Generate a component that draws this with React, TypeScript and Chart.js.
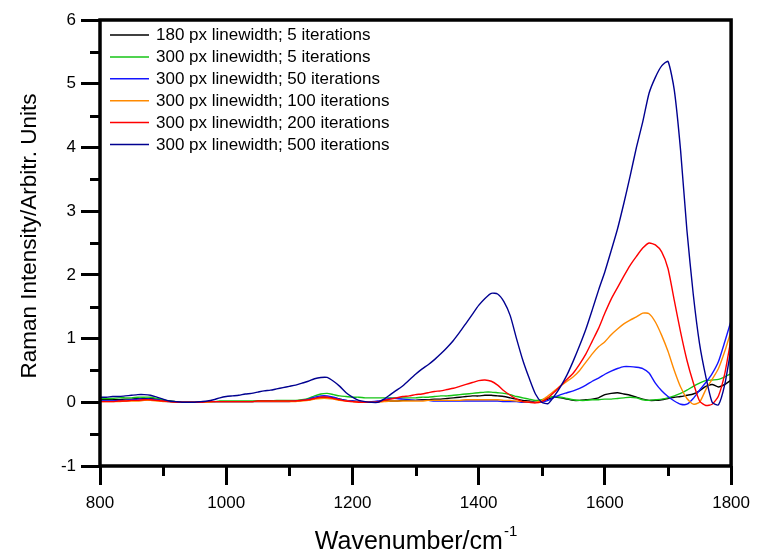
import React, { useEffect, useRef } from "react";
import { Chart, registerables } from "chart.js";

Chart.register(...registerables);

const WAVENUMBERS = [
  800, 810, 820, 830, 840, 850, 860, 870, 880, 890,
  900, 910, 920, 930, 940, 950, 960, 970, 980, 990,
  1000, 1010, 1020, 1030, 1040, 1050, 1060, 1070, 1080, 1090,
  1100, 1110, 1120, 1130, 1140, 1150, 1160, 1170, 1180, 1190,
  1200, 1210, 1220, 1230, 1240, 1250, 1260, 1270, 1280, 1290,
  1300, 1310, 1320, 1330, 1340, 1350, 1360, 1370, 1380, 1390,
  1400, 1410, 1420, 1430, 1440, 1450, 1460, 1470, 1480, 1490,
  1500, 1510, 1520, 1530, 1540, 1550, 1560, 1570, 1580, 1590,
  1600, 1610, 1620, 1630, 1640, 1650, 1660, 1670, 1680, 1690,
  1700, 1710, 1720, 1730, 1740, 1750, 1760, 1770, 1780, 1790,
  1800,
];

const LW180_IT5 = [
  0.04, 0.04, 0.04, 0.04, 0.05, 0.05, 0.06, 0.06, 0.06, 0.05,
  0.03, 0.02, 0.01, 0.0, 0.0, 0.0, 0.0, 0.01, 0.01, 0.01,
  0.01, 0.01, 0.01, 0.01, 0.01, 0.02, 0.02, 0.02, 0.02, 0.02,
  0.02, 0.02, 0.03, 0.04, 0.06, 0.08, 0.08, 0.07, 0.05, 0.03,
  0.02, 0.01, 0.01, 0.01, 0.01, 0.02, 0.02, 0.02, 0.03, 0.03,
  0.03, 0.04, 0.04, 0.05, 0.05, 0.06, 0.07, 0.08, 0.09, 0.1,
  0.1, 0.11, 0.11, 0.1, 0.09, 0.07, 0.05, 0.03, 0.02, 0.0,
  0.02, 0.05, 0.08, 0.07, 0.05, 0.03, 0.03, 0.04, 0.05, 0.07,
  0.12, 0.14, 0.15, 0.13, 0.11, 0.08, 0.05, 0.03, 0.03, 0.04,
  0.06, 0.08, 0.09, 0.11, 0.13, 0.18, 0.25, 0.28, 0.24, 0.28,
  0.35,
];

const LW300_IT5 = [
  0.06, 0.06, 0.06, 0.07, 0.07, 0.07, 0.08, 0.08, 0.08, 0.06,
  0.04, 0.02, 0.01, 0.0, 0.0, 0.0, 0.01, 0.01, 0.01, 0.02,
  0.02, 0.02, 0.02, 0.02, 0.02, 0.02, 0.02, 0.02, 0.03, 0.03,
  0.03, 0.03, 0.04, 0.06, 0.1, 0.13, 0.14, 0.12, 0.1, 0.09,
  0.08, 0.08, 0.07, 0.07, 0.07, 0.07, 0.07, 0.07, 0.07, 0.07,
  0.07, 0.08, 0.08, 0.09, 0.1, 0.1, 0.11, 0.12, 0.13, 0.14,
  0.15, 0.16, 0.16, 0.15, 0.14, 0.12, 0.09, 0.07, 0.05, 0.03,
  0.04, 0.07, 0.09, 0.08, 0.06, 0.04, 0.03, 0.03, 0.04, 0.04,
  0.05, 0.05, 0.06, 0.07, 0.08, 0.07, 0.04, 0.03, 0.04, 0.05,
  0.07, 0.1, 0.14, 0.19, 0.25, 0.3, 0.34, 0.35, 0.36, 0.4,
  0.45,
];

const LW300_IT50 = [
  0.02, 0.02, 0.02, 0.03, 0.03, 0.04, 0.05, 0.05, 0.05, 0.04,
  0.02, 0.01, 0.0, 0.0, 0.0, 0.0, 0.0, 0.01, 0.01, 0.01,
  0.01, 0.01, 0.01, 0.01, 0.01, 0.01, 0.01, 0.01, 0.01, 0.01,
  0.01, 0.02, 0.03, 0.05, 0.08, 0.1, 0.1, 0.08, 0.05, 0.03,
  0.02, 0.01, 0.01, 0.01, 0.02, 0.04, 0.06, 0.06, 0.05, 0.04,
  0.03, 0.03, 0.03, 0.02, 0.02, 0.02, 0.02, 0.02, 0.02, 0.02,
  0.02, 0.02, 0.02, 0.02, 0.01, 0.01, 0.01, 0.0, 0.0, 0.0,
  0.0, 0.03, 0.08, 0.12, 0.15, 0.18, 0.22, 0.27, 0.33, 0.38,
  0.44, 0.49, 0.53, 0.56, 0.56, 0.55, 0.53, 0.46, 0.3, 0.18,
  0.09, 0.02, -0.03, -0.03, 0.06, 0.19, 0.31, 0.45, 0.64, 0.95,
  1.28,
];

const LW300_IT100 = [
  0.01, 0.01, 0.01, 0.01, 0.02, 0.02, 0.02, 0.03, 0.03, 0.02,
  0.01, 0.01, 0.0, 0.0, 0.0, 0.0, 0.0, 0.0, 0.01, 0.01,
  0.01, 0.01, 0.01, 0.01, 0.01, 0.01, 0.01, 0.01, 0.01, 0.01,
  0.01, 0.01, 0.02, 0.03, 0.05, 0.06, 0.06, 0.05, 0.03, 0.02,
  0.01, 0.0, 0.0, 0.0, 0.0, 0.01, 0.02, 0.02, 0.02, 0.02,
  0.02, 0.02, 0.03, 0.03, 0.03, 0.03, 0.03, 0.03, 0.04, 0.04,
  0.04, 0.04, 0.04, 0.04, 0.03, 0.03, 0.02, 0.01, 0.0, 0.0,
  0.03, 0.1, 0.18, 0.26, 0.33, 0.4, 0.5, 0.63, 0.76, 0.87,
  0.95, 1.06, 1.15, 1.23, 1.29, 1.34, 1.4, 1.39, 1.26, 1.05,
  0.8, 0.5, 0.24, 0.06, -0.03, 0.0, 0.2, 0.36, 0.53, 0.8,
  1.12,
];

const LW300_IT200 = [
  0.01, 0.01, 0.01, 0.02, 0.02, 0.03, 0.03, 0.04, 0.04, 0.03,
  0.02, 0.01, 0.0, 0.0, 0.0, 0.0, 0.0, 0.01, 0.01, 0.01,
  0.01, 0.01, 0.01, 0.01, 0.01, 0.02, 0.02, 0.02, 0.02, 0.02,
  0.02, 0.02, 0.03, 0.04, 0.06, 0.08, 0.08, 0.06, 0.04, 0.02,
  0.01, 0.0, 0.0, 0.0, 0.01, 0.03, 0.05, 0.07, 0.09, 0.1,
  0.12, 0.13, 0.15, 0.17, 0.18, 0.2, 0.22, 0.25, 0.28, 0.31,
  0.34, 0.35, 0.33, 0.27, 0.18, 0.11, 0.05, 0.01, 0.0, -0.01,
  0.01, 0.07, 0.16, 0.26, 0.36, 0.46, 0.6, 0.76, 0.96, 1.16,
  1.4, 1.62, 1.8, 1.98, 2.15, 2.29, 2.42, 2.5, 2.47, 2.36,
  2.1, 1.6, 1.1, 0.66, 0.31, 0.02, -0.05, -0.03, 0.1, 0.45,
  1.0,
];

const LW300_IT500 = [
  0.08, 0.08, 0.09, 0.09, 0.1, 0.11, 0.12, 0.12, 0.11, 0.08,
  0.05, 0.02, 0.01, 0.0, 0.0, 0.0, 0.01, 0.02, 0.04, 0.07,
  0.09, 0.1, 0.11, 0.13, 0.14, 0.16, 0.18, 0.19, 0.21, 0.23,
  0.25, 0.27, 0.3, 0.33, 0.37, 0.39, 0.39, 0.33, 0.25, 0.15,
  0.08, 0.03, 0.01, 0.0, 0.0, 0.05, 0.12, 0.19, 0.26, 0.35,
  0.44, 0.52, 0.59, 0.67, 0.76, 0.86, 0.97, 1.1, 1.24, 1.38,
  1.52, 1.63, 1.71, 1.7, 1.58, 1.36, 1.0, 0.66, 0.38, 0.13,
  0.0, -0.02, 0.1, 0.25, 0.43, 0.65, 0.89, 1.15, 1.45, 1.76,
  2.05, 2.38, 2.72, 3.12, 3.55, 4.0, 4.4, 4.85, 5.1, 5.28,
  5.35, 4.9, 3.95, 2.7, 1.7, 0.92, 0.4, 0.0, -0.04, 0.28,
  0.85,
];

const SERIES_LABELS = [
  "180 px linewidth; 5 iterations",
  "300 px linewidth; 5 iterations",
  "300 px linewidth; 50 iterations",
  "300 px linewidth; 100 iterations",
  "300 px linewidth; 200 iterations",
  "300 px linewidth; 500 iterations",
];
const SERIES_VALUES = [LW180_IT5, LW300_IT5, LW300_IT50, LW300_IT100, LW300_IT200, LW300_IT500];
const SERIES_COLORS = ["#000000", "#16c416", "#1414ff", "#ff8a00", "#ff0000", "#000090"];

const X_TICKS = [800, 1000, 1200, 1400, 1600, 1800];
const X_MINOR = [900, 1100, 1300, 1500, 1700];
const Y_TICKS = [-1, 0, 1, 2, 3, 4, 5, 6];
const Y_MINOR = [-0.5, 0.5, 1.5, 2.5, 3.5, 4.5, 5.5];

const X_TITLE = "Wavenumber/cm";
const X_TITLE_SUP = "-1";
const Y_TITLE = "Raman Intensity/Arbitr. Units";

const FONT = '"Liberation Sans", Arial, Helvetica, sans-serif';

const framePlugin = {
  id: "frame",
  afterDraw(chart: any) {
    const ctx = chart.ctx;
    const { left, right, top, bottom } = chart.chartArea;
    const xs = chart.scales.x;
    const ys = chart.scales.y;
    ctx.save();
    ctx.strokeStyle = "#000";
    ctx.lineCap = "butt";
    ctx.lineWidth = 3;
    ctx.beginPath();
    X_MINOR.forEach((v) => {
      const px = Math.round(xs.getPixelForValue(v)) + 0.5;
      ctx.moveTo(px, bottom);
      ctx.lineTo(px, bottom + 10);
    });
    Y_MINOR.forEach((v) => {
      const py = Math.round(ys.getPixelForValue(v)) + 0.5;
      ctx.moveTo(left - 10, py);
      ctx.lineTo(left, py);
    });
    ctx.stroke();
    ctx.lineWidth = 3.5;
    ctx.strokeRect(left, top, right - left, bottom - top);

    ctx.font = `17px ${FONT}`;
    ctx.textBaseline = "middle";
    ctx.textAlign = "left";
    chart.data.datasets.forEach((ds: any, i: number) => {
      const y = 35 + i * 21.9;
      ctx.strokeStyle = ds.borderColor;
      ctx.lineWidth = 1.5;
      ctx.beginPath();
      ctx.moveTo(110, y);
      ctx.lineTo(149, y);
      ctx.stroke();
      ctx.fillStyle = "#000";
      ctx.fillText(ds.label, 156, y + 0.5);
    });

    ctx.fillStyle = "#000";
    ctx.textBaseline = "alphabetic";
    ctx.font = `25px ${FONT}`;
    const mainW = ctx.measureText(X_TITLE).width;
    ctx.font = `15px ${FONT}`;
    const supW = ctx.measureText(X_TITLE_SUP).width;
    const cx = (left + right) / 2;
    const startX = cx - (mainW + supW) / 2;
    ctx.font = `25px ${FONT}`;
    ctx.fillText(X_TITLE, startX, 549);
    ctx.font = `15px ${FONT}`;
    ctx.fillText(X_TITLE_SUP, startX + mainW + 1, 536);

    ctx.save();
    ctx.translate(30, 236);
    ctx.rotate(-Math.PI / 2);
    ctx.font = `22.5px ${FONT}`;
    ctx.textAlign = "center";
    ctx.textBaseline = "middle";
    ctx.fillText(Y_TITLE, 0, 0);
    ctx.restore();

    ctx.restore();
  },
};

export default function App() {
  const canvasRef = useRef<HTMLCanvasElement | null>(null);

  useEffect(() => {
    const canvas = canvasRef.current;
    if (!canvas) return;
    const datasets = SERIES_VALUES.map((vals, i) => ({
      label: SERIES_LABELS[i],
      data: WAVENUMBERS.map((x, j) => ({ x, y: vals[j] })),
      borderColor: SERIES_COLORS[i],
      backgroundColor: SERIES_COLORS[i],
      borderWidth: 1.4,
      pointRadius: 0,
      fill: false,
      tension: 0.2,
      order: SERIES_VALUES.length - i,
    }));
    const chart = new Chart(canvas, {
      type: "line",
      data: { datasets },
      options: {
        responsive: false,
        animation: false,
        layout: { padding: { top: 20, right: 26, left: 0, bottom: 0 } },
        plugins: {
          legend: { display: false },
          tooltip: { enabled: false },
          title: { display: false },
        },
        scales: {
          x: {
            type: "linear",
            min: 800,
            max: 1800,
            afterBuildTicks: (s: any) => {
              s.ticks = X_TICKS.map((v) => ({ value: v }));
            },
            afterFit: (s: any) => {
              s.height = 89;
            },
            ticks: {
              color: "#000",
              font: { family: FONT, size: 17 },
              padding: 8,
              maxRotation: 0,
              autoSkip: false,
              callback: (v: any) => String(v),
            },
            grid: {
              display: true,
              drawOnChartArea: false,
              drawTicks: true,
              tickLength: 19,
              tickWidth: 3,
              tickColor: "#000",
            },
            border: { display: false },
          },
          y: {
            type: "linear",
            min: -1,
            max: 6,
            afterBuildTicks: (s: any) => {
              s.ticks = Y_TICKS.map((v) => ({ value: v }));
            },
            afterFit: (s: any) => {
              s.width = 100;
            },
            ticks: {
              color: "#000",
              font: { family: FONT, size: 17 },
              padding: 5,
              autoSkip: false,
              callback: (v: any) => String(v),
            },
            grid: {
              display: true,
              drawOnChartArea: false,
              drawTicks: true,
              tickLength: 19,
              tickWidth: 3,
              tickColor: "#000",
            },
            border: { display: false },
          },
        },
      },
      plugins: [framePlugin],
    } as any);
    return () => chart.destroy();
  }, []);

  return (
    <div style={{ position: "fixed", left: 0, top: 0, width: 758, height: 555, background: "#fff" }}>
      <canvas ref={canvasRef} width={758} height={555} style={{ display: "block" }} />
    </div>
  );
}
